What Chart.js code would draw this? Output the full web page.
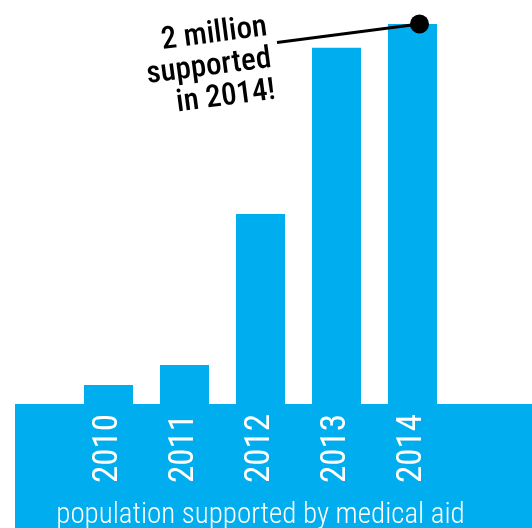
<!DOCTYPE html>
<html><head><meta charset="utf-8">
<script src="https://cdn.jsdelivr.net/npm/chart.js@4"></script>
<style>html,body{margin:0;padding:0;background:#fff}#wrap{width:532px;height:528px;position:relative}</style>
</head><body><div id="wrap"><canvas id="c"></canvas></div>
<script>
const years = ['2010', '2011', '2012', '2013', '2014'];
const supported = [100000, 205000, 1000000, 1875000, 2000000];
const yMax = 2100000;
const caption = 'population supported by medical aid';
const calloutLines = ['2 million', 'supported', 'in 2014!'];
const calloutIndex = 4;

const BLUE = '#00AEEF';
const NARROW = '"Roboto Condensed", "Liberation Sans Narrow", "DejaVu Sans Condensed", "Arial Narrow", sans-serif';

const decor = {
  id: 'decor',
  beforeDraw(chart) {
    const {ctx, chartArea, width, height} = chart;
    ctx.save();
    ctx.fillStyle = BLUE;
    ctx.fillRect(15, chartArea.bottom, width - 15, height - chartArea.bottom);
    ctx.restore();
  },
  afterDraw(chart) {
    const ctx = chart.ctx;
    const xs = chart.scales.x;
    ctx.save();
    ctx.fillStyle = '#fff';
    ctx.font = '300 29px ' + NARROW;
    ctx.textAlign = 'center';
    ctx.textBaseline = 'alphabetic';
    ctx.fillText(caption, (xs.left + xs.right) / 2, chart.height - 5);
    const bar = chart.getDatasetMeta(0).data[calloutIndex];
    const dot = {x: bar.x + 7, y: bar.y};
    ctx.strokeStyle = '#000';
    ctx.lineWidth = 3;
    ctx.beginPath();
    ctx.moveTo(277, 42.5);
    ctx.lineTo(dot.x, dot.y);
    ctx.stroke();
    ctx.fillStyle = '#000';
    ctx.beginPath();
    ctx.arc(dot.x, dot.y, 9.5, 0, Math.PI * 2);
    ctx.fill();
    ctx.translate(268, 35);
    ctx.rotate(-7.5 * Math.PI / 180);
    ctx.font = '500 31px ' + NARROW;
    ctx.textAlign = 'right';
    calloutLines.forEach((t, i) => ctx.fillText(t, 0, i * 32));
    ctx.restore();
  }
};

new Chart(document.getElementById('c'), {
  type: 'bar',
  data: {
    labels: years,
    datasets: [{
      data: supported,
      backgroundColor: BLUE,
      borderWidth: 0,
      barPercentage: 49 / 76,
      categoryPercentage: 1
    }]
  },
  options: {
    responsive: true,
    maintainAspectRatio: false,
    animation: false,
    layout: {padding: {left: 70.5, right: 81.5, top: 5, bottom: 0}},
    plugins: {legend: {display: false}, tooltip: {enabled: false}},
    scales: {
      x: {
        grid: {display: false, drawTicks: false},
        border: {display: false},
        ticks: {
          color: '#fff',
          font: {family: NARROW, size: 35},
          minRotation: 90,
          maxRotation: 90,
          padding: 10,
          autoSkip: false
        },
        afterFit: s => { s.height = 124; }
      },
      y: {display: false, min: 0, max: yMax}
    }
  },
  plugins: [decor]
});
</script>
</body></html>
